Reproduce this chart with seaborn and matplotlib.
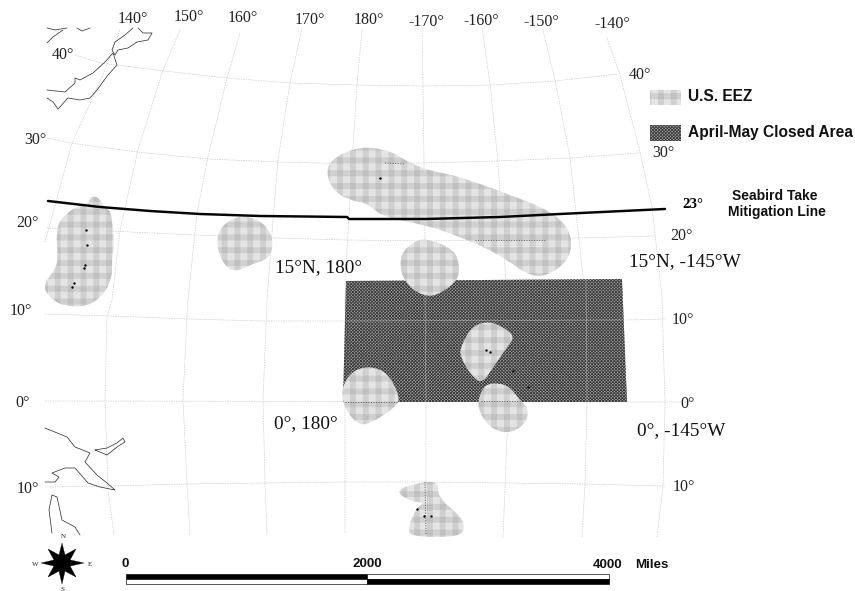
#!/usr/bin/env python3

import pandas as pd
import seaborn as sns
import matplotlib.pyplot as plt

# ==========================================
# 1. Map data (projected map units, y runs downward)
# ==========================================
MERIDIANS = {
    '140': [(120, 30), (103, 75), (72, 143), (45, 242)],
    '150': [(180, 30), (163, 70), (138, 150), (120, 230), (112, 300), (107, 317), (105, 400), (108, 490), (114, 535)],
    '160': [(240, 33), (227, 78), (208, 157), (197, 213), (188, 300), (187, 317), (183, 400), (187, 483), (190, 535)],
    '170': [(302, 28), (290, 83), (278, 160), (272, 233), (267, 300), (263, 400), (265, 483), (267, 535)],
    '180': [(362, 30), (357, 85), (352, 163), (348, 233), (345, 283), (345, 400), (345, 533)],
    '-170': [(422, 28), (423, 86), (424, 163), (425, 241), (425, 322), (426, 401), (426, 482), (425, 535)],
    '-160': [(482, 28), (490, 83), (498, 163), (505, 267), (508, 322), (510, 401), (507, 437), (503, 537)],
    '-150': [(543, 30), (555, 80), (570, 157), (583, 277), (587, 403), (585, 484), (582, 537)],
    '-140': [(607, 38), (620, 75), (640, 152), (652, 207), (662, 297), (665, 403), (663, 486), (657, 537)],
}
PARALLELS = {
    'N40': [(75, 55), (100, 63), (165, 71), (227, 78), (290, 83), (357, 85), (423, 86), (490, 85), (555, 81), (618, 74)],
    'N30': [(47, 138), (70, 143), (137, 152), (208, 159), (278, 162), (357, 164), (423, 163), (497, 161), (570, 158), (640, 153)],
    'N20': [(47, 228), (110, 231), (195, 235), (275, 238), (347, 240), (423, 241), (500, 240), (580, 238), (655, 236)],
    'N10': [(45, 314), (110, 316), (187, 319), (265, 321), (346, 321), (425, 322), (510, 322), (590, 321), (665, 319)],
    'EQ': [(45, 401), (685, 402)],
    'S10': [(45, 487), (110, 486), (187, 484), (265, 483), (345, 482), (425, 482), (506, 483), (585, 484), (665, 486)],
}
TAKE_LINE = [(48, 201), (100, 207), (150, 211), (200, 214), (260, 216), (347, 217), (349, 219),
             (425, 219), (500, 217), (560, 214), (665, 209)]

CLOSED_AREA = [(346, 281), (622, 279), (627, 402), (343, 402)]

EEZ_AREAS = {
    'guam': [(88, 203), (92, 196), (99, 198), (105, 208), (111, 211), (114, 240), (112, 262), (112, 277),
             (104, 294), (90, 305), (75, 307), (58, 304), (45, 292), (45, 283), (54, 270), (58, 262),
             (56, 225), (70, 210), (85, 204)],
    'wake': [(216, 243), (221, 226), (240, 215), (259, 220), (270, 231), (273, 243), (270, 258),
             (250, 265), (235, 272), (223, 264)],
    'hawaii': [(326, 175), (331, 159), (360, 146), (391, 151), (406, 161), (427, 170), (457, 176), (500, 191),
               (551, 211), (569, 229), (572, 247), (565, 264), (544, 277), (526, 274), (503, 257), (473, 242),
               (430, 226), (383, 217), (368, 204), (357, 202), (336, 194)],
    'johnston': [(454, 249), (460, 267), (457, 281), (441, 293), (428, 297), (411, 289), (400, 272),
                 (401, 254), (412, 243), (425, 238)],
    'palmyra': [(460, 348), (472, 326), (490, 321), (508, 330), (514, 338), (508, 346), (494, 366),
                (482, 384), (471, 375), (461, 358)],
    'howland': [(342, 387), (352, 371), (370, 366), (388, 373), (400, 397), (396, 407), (365, 427),
                (352, 419), (343, 404)],
    'jarvis': [(478, 400), (484, 386), (493, 383), (508, 385), (521, 401), (529, 410), (525, 425),
               (507, 434), (489, 427), (479, 411)],
    'samoa': [(395, 490), (423, 482), (438, 482), (438, 497), (460, 516), (465, 527), (459, 537), (411, 537),
              (408, 527), (417, 507), (425, 503), (409, 501)],
}

COASTS = {
    'a': [(47, 28), (55, 30), (67, 28)],
    'b': [(63, 30), (53, 37), (47, 43)],
    'c': [(77, 28), (82, 31), (90, 28)],
    'hokkaido': [(133, 28), (125, 35), (115, 42), (112, 50), (115, 55), (118, 50), (128, 48), (137, 42),
                 (148, 40), (152, 33), (143, 33), (138, 28)],
    'honshu': [(47, 90), (65, 92), (75, 83), (75, 78), (80, 80), (93, 73), (105, 62), (113, 53), (117, 65),
               (108, 75), (97, 90), (90, 98), (80, 100), (68, 98), (58, 109), (53, 102), (47, 98)],
    'guinea': [(45, 428), (67, 437), (75, 447), (90, 453), (85, 462), (97, 475), (107, 483), (115, 490),
               (100, 487), (88, 483), (75, 468), (65, 468), (52, 473), (59, 477), (55, 482), (45, 482)],
    'britain': [(95, 450), (107, 455), (117, 447), (125, 442), (123, 438), (117, 443), (107, 448), (95, 450)],
    'cape': [(52, 495), (49, 510), (52, 533)],
    'york': [(52, 495), (57, 497), (62, 520), (75, 527), (80, 535)],
}

# darker seams and pale grid lines running through the shaded areas
DARK_SEAMS = [[(345, 402), (398, 402)], [(481, 401), (522, 401)], [(475, 240), (545, 240)],
              [(385, 163), (405, 164)], [(425, 482), (426, 535)]]
PALE_SEAMS = [[(346, 321), (622, 320)], [(425, 295), (426, 402)], [(586, 280), (587, 402)]]

SPECK_X = [86, 87, 85, 84, 74, 72, 380, 486, 490, 513, 528, 417, 424, 431]
SPECK_Y = [230, 245, 265, 268, 283, 287, 178, 350, 352, 371, 387, 509, 516, 516]

COMPASS_LONG = [[(62, 543), (66, 559), (62, 563), (58, 559)], [(62, 584), (66, 567), (62, 563), (58, 567)],
                [(41, 563), (58, 559), (62, 563), (58, 567)], [(84, 563), (66, 559), (62, 563), (66, 567)]]
COMPASS_SHORT = [[(48, 549), (61, 556), (62, 563), (55, 562)], [(76, 549), (69, 562), (62, 563), (63, 556)],
                 [(48, 577), (55, 564), (62, 563), (61, 570)], [(76, 577), (63, 570), (62, 563), (69, 564)]]

# label, x, y
LON_LABELS = [('140°', 133, 19), ('150°', 189, 17), ('160°', 243, 18), ('170°', 310, 20), ('180°', 369, 20),
              ('-170°', 426, 22), ('-160°', 481, 21), ('-150°', 541, 22), ('-140°', 612, 24)]
LAT_LABELS = [('40°', 63, 55), ('30°', 35, 140), ('20°', 27, 223), ('10°', 21, 311), ('0°', 23, 403),
              ('10°', 28, 489), ('40°', 640, 75), ('30°', 663, 153), ('20°', 681, 236), ('10°', 683, 320),
              ('0°', 688, 404), ('10°', 684, 487)]
CORNER_LABELS = [('15°N, 180°', 319, 268), ('15°N, -145°W', 685, 262), ('0°, 180°', 306, 424), ('0°, -145°W', 681, 431)]
SCALE_LABELS = [('0', 125, 564), ('2000', 367, 564), ('4000', 608, 565), ('Miles', 652, 565)]
COMPASS_LABELS = [('N', 63, 536), ('W', 35, 564), ('E', 90, 564), ('S', 62, 589)]

EEZ_BASE = '#e4e4e4'
EEZ_PLAID = (0.5, 0.5, 0.5, 0.2)
CLOSED_FACE = '#a4a4a4'
CLOSED_HATCH = '#3c3c3c'
GRID_COLOR = '#a8a8a8'
LINE_BLACK = '#050505'
SERIF = 'Liberation Serif'
SANS = 'Liberation Sans'
DPI = 77


# ==========================================
# 2. Shared Functions
# ==========================================
def draw_path(ax, points, color, lw, ls='-'):
    df = pd.DataFrame(points, columns=['x', 'y'])
    sns.lineplot(data=df, x='x', y='y', sort=False, estimator=None, color=color,
                 linewidth=lw, linestyle=ls, ax=ax, legend=False)


def round_outline(points, passes=2):
    """Corner cutting, so the hand read outlines come out round like the original."""
    for _ in range(passes):
        smooth = []
        for (x0, y0), (x1, y1) in zip(points, points[1:] + points[:1]):
            smooth.append((0.75 * x0 + 0.25 * x1, 0.75 * y0 + 0.25 * y1))
            smooth.append((0.25 * x0 + 0.75 * x1, 0.25 * y0 + 0.75 * y1))
        points = smooth
    return points


def draw_plaid(ax, points):
    """Light fill with two see-through stripe layers, so crossings go darker."""
    xs, ys = zip(*points)
    plt.rcParams['hatch.linewidth'] = 5.5
    ax.fill(xs, ys, facecolor=EEZ_BASE, edgecolor='none', zorder=3)
    ax.fill(xs, ys, facecolor='none', edgecolor=EEZ_PLAID, hatch='-', linewidth=0, zorder=3)
    ax.fill(xs, ys, facecolor='none', edgecolor=EEZ_PLAID, hatch='|', linewidth=0, zorder=3)


def draw_closed(ax, points):
    xs, ys = zip(*points)
    plt.rcParams['hatch.linewidth'] = 0.8
    ax.fill(xs, ys, facecolor=CLOSED_FACE, edgecolor=CLOSED_HATCH, hatch='xxxxxxxx', linewidth=0, zorder=2)


def add_labels(ax, labels, **kwargs):
    for text, x, y in labels:
        ax.text(x, y, text, ha='center', va='center', **kwargs)


# ==========================================
# 3. Main Execution
# ==========================================
sns.set_theme(style='white')

fig, ax = plt.subplots(figsize=(855.01 / DPI, 591.01 / DPI), dpi=DPI)
ax.set_position([0, 0, 1, 1])

for line in list(MERIDIANS.values()) + list(PARALLELS.values()):
    draw_path(ax, line, GRID_COLOR, 0.6, ':')

for coast in COASTS.values():
    draw_path(ax, coast, '#333333', 0.7)

draw_closed(ax, CLOSED_AREA)

for seam in PALE_SEAMS:
    draw_path(ax, seam, '#a8a8a8', 0.6)

for area in EEZ_AREAS.values():
    draw_plaid(ax, round_outline(area))

for seam in DARK_SEAMS:
    draw_path(ax, seam, '#555555', 0.9, ':')
for child in ax.lines[-len(DARK_SEAMS):]:
    child.set_zorder(4)

sns.scatterplot(x=SPECK_X, y=SPECK_Y, color='black', s=5, linewidth=0, ax=ax, zorder=5)

draw_path(ax, TAKE_LINE, LINE_BLACK, 2.3)
ax.lines[-1].set_zorder(6)

# legend swatches
LEGEND_EEZ = [(650, 90), (681, 90), (681, 105), (650, 105)]
LEGEND_CLOSED = [(650, 125), (681, 125), (681, 141), (650, 141)]
draw_plaid(ax, LEGEND_EEZ)
draw_closed(ax, LEGEND_CLOSED)
ax.text(688, 96, 'U.S. EEZ', fontsize=14.5, fontweight='bold', family=SANS, ha='left', va='center', color='#111111')
ax.text(688, 132, 'April-May Closed Area', fontsize=14.5, fontweight='bold', family=SANS, ha='left', va='center', color='#111111')

ax.text(693, 204, '23°', fontsize=14, fontweight='bold', family=SERIF, ha='center', va='center', color='black')
ax.text(775, 196, 'Seabird Take', fontsize=13, fontweight='bold', family=SANS, ha='center', va='center', color='#111111')
ax.text(777, 212, 'Mitigation Line', fontsize=13, fontweight='bold', family=SANS, ha='center', va='center', color='#111111')

add_labels(ax, LON_LABELS, fontsize=15, family=SERIF, color='#222222')
add_labels(ax, LAT_LABELS, fontsize=15, family=SERIF, color='#222222')
add_labels(ax, CORNER_LABELS, fontsize=18, family=SERIF, color='#111111')
add_labels(ax, SCALE_LABELS, fontsize=12.5, fontweight='bold', family=SANS, color='#111111')
add_labels(ax, COMPASS_LABELS, fontsize=6.5, family=SERIF, color='#222222')

for ray in COMPASS_SHORT + COMPASS_LONG:
    xs, ys = zip(*ray)
    ax.fill(xs, ys, facecolor='black', edgecolor='black', linewidth=0.3, zorder=7)

# scale bar: black and white halves swap between rows
ax.barh(y=[577, 577], width=[241, 242], left=[126, 367], height=5, color=['black', 'white'], edgecolor='black', linewidth=0.6)
ax.barh(y=[582, 582], width=[241, 242], left=[126, 367], height=5, color=['white', 'black'], edgecolor='black', linewidth=0.6)

ax.set_xlim(0, 855)
ax.set_ylim(591, 0)
ax.set_xlabel('')
ax.set_ylabel('')
ax.axis('off')

fig.savefig('out.png', dpi=DPI, facecolor='white')
plt.close(fig)
